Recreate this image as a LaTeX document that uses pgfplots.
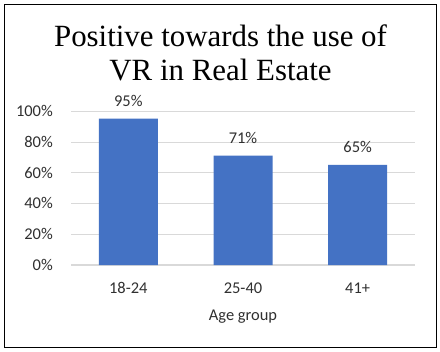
\documentclass[border=0pt]{standalone}
\usepackage{fontspec}
\setmainfont{Liberation Serif}
\newfontfamily\calib{Carlito}
\usepackage{pgfplots}
\pgfplotsset{compat=1.18}
\definecolor{barblue}{HTML}{4472C4}
\definecolor{gridgray}{HTML}{D9D9D9}
\definecolor{txtgray}{HTML}{303030}
\begin{document}
\begin{tikzpicture}[x=1bp,y=1bp]
\path[use as bounding box] (0,0) rectangle (440,351);
\fill[white] (0,0) rectangle (440,351);
\draw[black, line width=0.8bp] (4,3.5) rectangle (436.5,347);
\node[font=\rmfamily\fontsize{31}{34}\selectfont, anchor=base] at (220.5,305) {Positive towards the use of};
\node[font=\rmfamily\fontsize{31}{34}\selectfont, anchor=base] at (220.5,271) {VR in Real Estate};
\begin{axis}[
  at={(71bp,86bp)}, anchor=south west,
  scale only axis, width=344bp, height=154bp,
  xmin=-0.5, xmax=2.5, ymin=0, ymax=100,
  ytick={0,20,40,60,80,100},
  /pgf/number format/assume math mode=true,
  yticklabel={\pgfmathprintnumber{\tick}\%},
  xtick=data, xticklabels={18-24,25-40,41+},
  axis x line*=bottom, axis y line*=left,
  x axis line style={-, draw=gridgray, line width=1.2bp},
  y axis line style={draw=none},
  major tick length=0pt,
  ymajorgrids, grid style={draw=gridgray, line width=0.6bp},
  tick label style={font=\calib\fontsize{16.5}{18}\selectfont, text=txtgray},
  yticklabel style={anchor=east, inner sep=0pt, xshift=-18bp},
  xticklabel style={anchor=base, inner sep=0pt, yshift=-28bp},
  xlabel={Age group},
  xlabel style={at={(axis description cs:0.5,0)}, anchor=base, inner sep=0pt, yshift=-55bp, font=\calib\fontsize{16.5}{18}\selectfont, text=txtgray},
  ybar, bar width=59bp,
  nodes near coords={\pgfmathprintnumber{\pgfplotspointmeta}\%},
  every node near coord/.append style={anchor=base, inner sep=0pt, yshift=12.5bp, font=\calib\fontsize{16.5}{18}\selectfont, text=txtgray},
  clip=false,
]
\addplot[fill=barblue, draw=none] coordinates {(0,95) (1,71) (2,65)};
\end{axis}
\end{tikzpicture}
\end{document}
